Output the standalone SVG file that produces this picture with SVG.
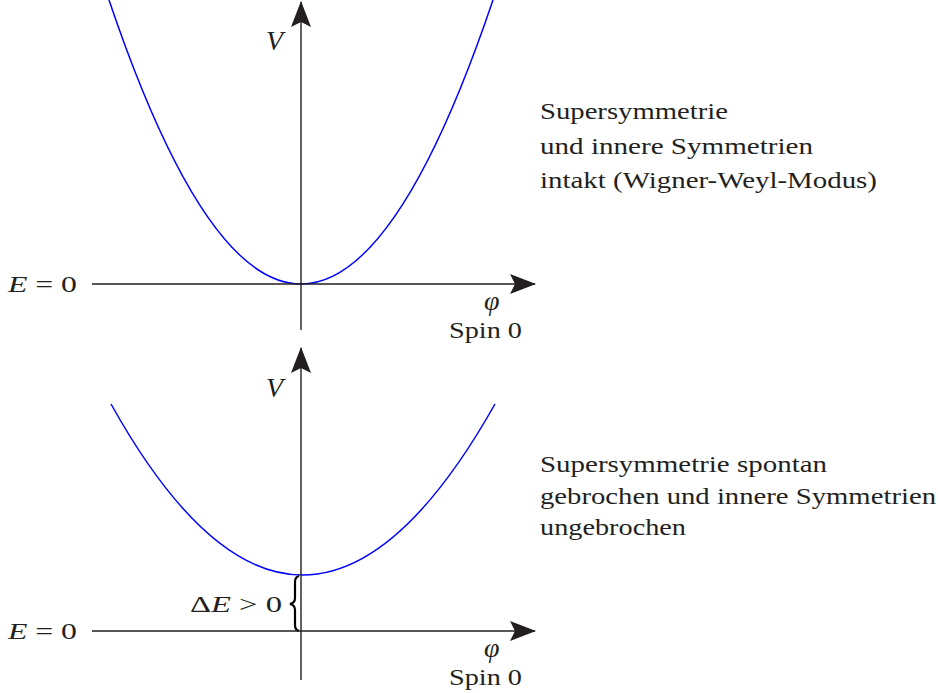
<svg xmlns="http://www.w3.org/2000/svg" width="938" height="693" viewBox="0 0 938 693">
<defs>
<marker id="arr" viewBox="0 0 26 20" refX="25" refY="10" markerWidth="26" markerHeight="20" markerUnits="userSpaceOnUse" orient="auto">
<path d="M0,0 L26,10 L0,20 L5,10 Z" fill="#231f20"/>
</marker>
<style>
.axis{stroke:#231f20;stroke-width:1.4;fill:none}
.curve{stroke:#0000ff;stroke-width:1.5;fill:none}
text{font-family:"Liberation Serif","Times New Roman",serif;font-size:24px;fill:#231f20}
.it{font-style:italic}
.big{font-size:28px}
</style>
</defs>
<rect width="938" height="693" fill="#ffffff"/>
<g id="top-plot">
<path class="curve" d="M109,0 Q301,568 493,0"/>
<text x="8" y="292" textLength="69" lengthAdjust="spacingAndGlyphs"><tspan class="it">E</tspan> = 0</text>
<text class="it big" x="266" y="50">V</text>
<text class="it big" x="484" y="310">φ</text>
<text x="449" y="338" textLength="73" lengthAdjust="spacingAndGlyphs">Spin 0</text>
</g>
<g id="top-text">
<text x="540" y="119" textLength="188" lengthAdjust="spacingAndGlyphs">Supersymmetrie</text>
<text x="540" y="154" textLength="273" lengthAdjust="spacingAndGlyphs">und innere Symmetrien</text>
<text x="540" y="188" textLength="337" lengthAdjust="spacingAndGlyphs">intakt (Wigner-Weyl-Modus)</text>
</g>
<g id="bottom-plot">
<path class="curve" d="M111,404 Q302,746 495,404"/>
<text x="8" y="639" textLength="69" lengthAdjust="spacingAndGlyphs"><tspan class="it">E</tspan> = 0</text>
<text class="it big" x="266" y="397">V</text>
<text class="it big" x="484" y="657">φ</text>
<text x="449" y="685" textLength="73" lengthAdjust="spacingAndGlyphs">Spin 0</text>
<text x="190" y="612" textLength="92" lengthAdjust="spacingAndGlyphs">Δ<tspan class="it">E</tspan> &gt; 0</text>
<path d="M299,576 Q295,577 295,582 L295,598 Q295,603 290,604 Q295,605 295,610 L295,625 Q295,630 299,631" stroke="#000" stroke-width="2.2" fill="none"/>
</g>
<g id="bottom-text">
<text x="540" y="472" textLength="287" lengthAdjust="spacingAndGlyphs">Supersymmetrie spontan</text>
<text x="540" y="504" textLength="396" lengthAdjust="spacingAndGlyphs">gebrochen und innere Symmetrien</text>
<text x="540" y="535" textLength="146" lengthAdjust="spacingAndGlyphs">ungebrochen</text>
</g>
<g id="connectors">
<line class="axis" x1="301" y1="330" x2="301" y2="2" marker-end="url(#arr)"/>
<line class="axis" x1="92" y1="284" x2="535" y2="284" marker-end="url(#arr)"/>
<line class="axis" x1="301" y1="680" x2="301" y2="348" marker-end="url(#arr)"/>
<line class="axis" x1="92" y1="631" x2="535" y2="631" marker-end="url(#arr)"/>
</g>
</svg>
